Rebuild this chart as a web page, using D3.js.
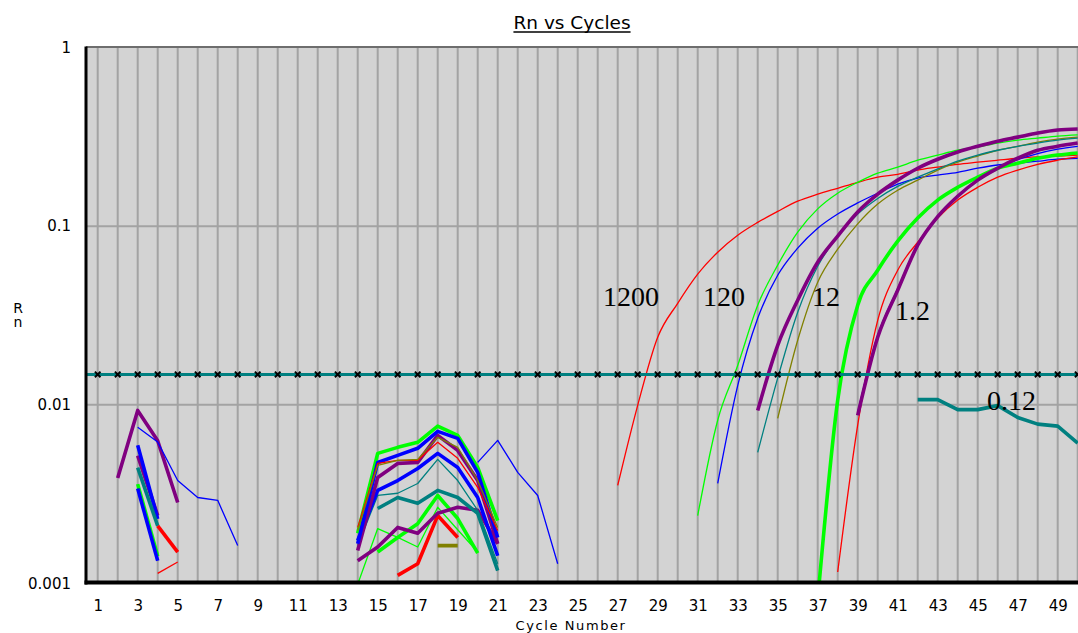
<!DOCTYPE html>
<html>
<head>
<meta charset="utf-8">
<script src="https://cdn.jsdelivr.net/npm/d3@7"></script>
<style>
  html, body { margin: 0; padding: 0; background: #ffffff; }
  svg { display: block; }
</style>
</head>
<body>
<svg id="chart" width="1078" height="633"></svg>
<script>
// ---------------- DATA (Rn values) ----------------
const xTickLabels = [1,3,5,7,9,11,13,15,17,19,21,23,25,27,29,31,33,35,37,39,41,43,45,47,49];
const yTickValues = [0.001, 0.01, 0.1, 1];
const gridCycles = [1,2,3,4,5,6,7,8,9,10,11,12,13,14,15,16,17,18,19,20,21,22,23,24,25,26,27,28,29,30,31,32,33,34,35,36,37,38,39,40,41,42,43,44,45,46,47,48,49,50];
const thresholdValue = 0.0148;

// early noise cluster (cycles 2-8)
const leftPurpleA = [0.0039, 0.0093, 0.0063, 0.00284];           // cycles 2-5
const leftBlueThin = [0.0075, 0.0062, 0.00377, 0.00303, 0.00292, 0.00163]; // 3-8
const leftGreenB = [0.0036, 0.00142];                            // 3-4
const leftBlueB = [0.0034, 0.00134];                             // 3-4
const leftPurpleB = [0.0052, 0.0024];                            // 3-4
const leftBlueA = [0.00594, 0.0023];                             // 3-4
const leftTeal = [0.00445, 0.0021];                              // 3-4
const leftRedThick = [0.0021, 0.0015];                           // 4-5
const leftRedThin = [0.00114, 0.00132];                          // 4-5

// middle noise cluster (cycles 14-24)
const midGreenThin = [0.00099, 0.00203, 0.00181, 0.0016, 0.00267, 0.002, 0.0015];          // 14-20
const midRedThickB = [0.00111, 0.00129, 0.0024, 0.00181];                                   // 16-19
const midOliveThick = [0.00163, 0.00163];                                                   // 18-19
const midGreenB = [0.0015, 0.00181, 0.00216, 0.00311, 0.00231, 0.00148];                    // 15-20
const midPurpleB = [0.00134, 0.0016, 0.00206, 0.00191, 0.00247, 0.00267, 0.00257, 0.00167]; // 14-21
const midTealThick = [0.00263, 0.00303, 0.00281, 0.00332, 0.00303, 0.00247, 0.00118];       // 15-21
const midTealThin = [0.00163, 0.00311, 0.0032, 0.00363, 0.00495, 0.00377, 0.00257, 0.00129];// 14-21
const midBlueB = [0.00174, 0.00332, 0.00377, 0.0044, 0.00535, 0.00446, 0.00303, 0.00143];   // 14-21
const midPurpleA = [0.00153, 0.00392, 0.0047, 0.00476, 0.00675, 0.00556, 0.00377, 0.00167]; // 14-21
const midRedThin = [0.00206, 0.0047, 0.00489, 0.00489, 0.00617, 0.00502, 0.00345, 0.00198]; // 14-21
const midOliveThin = [0.00198, 0.00458, 0.00489, 0.00495, 0.00658, 0.00578, 0.00377, 0.00206]; // 14-21
const midBlueA = [0.00167, 0.00476, 0.00521, 0.00571, 0.0071, 0.00649, 0.00419, 0.00181];   // 14-21
const midGreenA = [0.00191, 0.00535, 0.00578, 0.00617, 0.0076, 0.00675, 0.00446, 0.00225];  // 14-21
const midBlueThin = [0.00476, 0.00633, 0.00419, 0.00311, 0.00129];                          // 20-24

// amplification curves
const red1200 = [0.00354, 0.00994, 0.0239, 0.037, 0.0539, 0.0715, 0.089, 0.105, 0.121, 0.138, 0.151, 0.163, 0.176, 0.188, 0.195, 0.206, 0.214, 0.222, 0.228, 0.234, 0.24, 0.244, 0.247, 0.25]; // 27-50
const green120 = [0.0024, 0.0082, 0.0166, 0.0361, 0.0605, 0.0926, 0.125, 0.153, 0.176, 0.198, 0.214, 0.234, 0.25, 0.266, 0.277, 0.292, 0.303, 0.311, 0.319, 0.324]; // 31-50
const blue120 = [0.00363, 0.0128, 0.0305, 0.0531, 0.0753, 0.0974, 0.117, 0.135, 0.153, 0.172, 0.186, 0.193, 0.2, 0.211, 0.22, 0.225, 0.231, 0.237, 0.24]; // 32-50
const olive12 = [0.0084, 0.023, 0.0486, 0.0743, 0.103, 0.133, 0.159, 0.181, 0.206, 0.228, 0.247, 0.266, 0.28, 0.295, 0.307, 0.315]; // 35-50
const teal12 = [0.00542, 0.0141, 0.033, 0.0597, 0.0879, 0.117, 0.143, 0.167, 0.188, 0.209, 0.231, 0.25, 0.266, 0.28, 0.292, 0.303, 0.311]; // 34-50
const purple12 = [0.0093, 0.0215, 0.0385, 0.0628, 0.0879, 0.12, 0.151, 0.181, 0.211, 0.237, 0.26, 0.28, 0.299, 0.315, 0.332, 0.345, 0.35]; // 34-50
const greenThick1p2 = [0.00081, 0.0106, 0.0361, 0.0567, 0.0824, 0.111, 0.14, 0.165, 0.188, 0.211, 0.225, 0.24, 0.25, 0.257]; // 37-50
const red1p2 = [0.00116, 0.0077, 0.0297, 0.0567, 0.0813, 0.111, 0.14, 0.165, 0.188, 0.206, 0.222, 0.234, 0.244]; // 38-50
const blue1p2 = [0.0091, 0.0245, 0.0447, 0.079, 0.113, 0.147, 0.18, 0.21, 0.236, 0.255, 0.27, 0.28]; // 39-50
const purple1p2 = [0.00873, 0.0239, 0.0438, 0.0783, 0.113, 0.147, 0.181, 0.211, 0.24, 0.266, 0.28, 0.292]; // 39-50
const teal0p12 = [0.0107, 0.0107, 0.0094, 0.0094, 0.0099, 0.0085, 0.0078, 0.0076, 0.0061]; // 42-50

// dilution annotations: text, cycle, Rn
const annotTexts = ["1200", "120", "12", "1.2", "0.12"];
const annotCycles = [26.27, 31.27, 36.72, 40.87, 45.47];
const annotValues = [0.0356, 0.0356, 0.0356, 0.0297, 0.0093];

// ---------------- STYLES ----------------
const RED = "#ff0000", GREEN = "#00ff00", BLUE = "#0000ff", PURPLE = "#800080", TEAL = "#008080", OLIVE = "#808000";
const THIN = 1.3, THICK = 3.6;

const series = [
  {v: leftPurpleA, s: 2, c: PURPLE, w: THICK},
  {v: leftBlueThin, s: 3, c: BLUE, w: THIN},
  {v: leftGreenB, s: 3, c: GREEN, w: THICK},
  {v: leftBlueB, s: 3, c: BLUE, w: THICK},
  {v: leftPurpleB, s: 3, c: PURPLE, w: THICK},
  {v: leftBlueA, s: 3, c: BLUE, w: THICK},
  {v: leftTeal, s: 3, c: TEAL, w: THICK},
  {v: leftRedThick, s: 4, c: RED, w: THICK},
  {v: leftRedThin, s: 4, c: RED, w: THIN},

  {v: midGreenThin, s: 14, c: GREEN, w: THIN},
  {v: midRedThickB, s: 16, c: RED, w: THICK},
  {v: midOliveThick, s: 18, c: OLIVE, w: THICK},
  {v: midGreenB, s: 15, c: GREEN, w: THICK},
  {v: midPurpleB, s: 14, c: PURPLE, w: THICK},
  {v: midTealThick, s: 15, c: TEAL, w: THICK},
  {v: midTealThin, s: 14, c: TEAL, w: THIN},
  {v: midBlueB, s: 14, c: BLUE, w: THICK},
  {v: midPurpleA, s: 14, c: PURPLE, w: THICK},
  {v: midBlueThin, s: 20, c: BLUE, w: THIN},
  {v: midGreenA, s: 14, c: GREEN, w: THICK},
  {v: midBlueA, s: 14, c: BLUE, w: THICK},
  {v: midRedThin, s: 14, c: RED, w: THIN},
  {v: midOliveThin, s: 14, c: OLIVE, w: THIN},

  {v: red1200, s: 27, c: RED, w: THIN, smooth: true},
  {v: green120, s: 31, c: GREEN, w: THIN, smooth: true},
  {v: blue120, s: 32, c: BLUE, w: THIN, smooth: true},
  {v: olive12, s: 35, c: OLIVE, w: THIN, smooth: true},
  {v: teal12, s: 34, c: TEAL, w: THIN, smooth: true},
  {v: purple12, s: 34, c: PURPLE, w: THICK, smooth: true},
  {v: greenThick1p2, s: 37, c: GREEN, w: THICK, smooth: true},
  {v: red1p2, s: 38, c: RED, w: THIN, smooth: true},
  {v: blue1p2, s: 39, c: BLUE, w: THIN, smooth: true},
  {v: purple1p2, s: 39, c: PURPLE, w: THICK, smooth: true},
  {v: teal0p12, s: 42, c: TEAL, w: THICK}
];

// ---------------- LAYOUT ----------------
const svg = d3.select("#chart");
const plotLeft = 86, plotRight = 1078, plotTop = 47.5, plotBottom = 583.5;

const x = d3.scaleLinear().domain([1, 50]).range([97.7, 1077.7]);
const y = d3.scaleLog().domain([0.001, 1]).range([plotBottom, plotTop]);

svg.append("rect").attr("width", 1078).attr("height", 633).attr("fill", "#ffffff");

// plot background
svg.append("rect")
  .attr("x", plotLeft).attr("y", plotTop)
  .attr("width", plotRight - plotLeft).attr("height", plotBottom - plotTop)
  .attr("fill", "#d3d3d3");

const defs = svg.append("defs");
defs.append("clipPath").attr("id", "plotclip")
  .append("rect")
  .attr("x", plotLeft).attr("y", plotTop)
  .attr("width", plotRight - plotLeft).attr("height", plotBottom - plotTop - 1);

// grid
const grid = svg.append("g");
grid.selectAll("line.v").data(gridCycles).join("line")
  .attr("x1", d => x(d)).attr("x2", d => x(d))
  .attr("y1", plotTop).attr("y2", plotBottom)
  .attr("stroke", "#a3a3a3").attr("stroke-width", 2);
grid.selectAll("line.h").data([0.01, 0.1]).join("line")
  .attr("x1", plotLeft).attr("x2", plotRight)
  .attr("y1", d => y(d)).attr("y2", d => y(d))
  .attr("stroke", "#a3a3a3").attr("stroke-width", 2);

// series lines
const lineStraight = d3.line().x(d => x(d.c)).y(d => y(d.v));
const lineSmooth = d3.line().x(d => x(d.c)).y(d => y(d.v)).curve(d3.curveMonotoneX);

const lines = svg.append("g").attr("clip-path", "url(#plotclip)");
series.forEach(sr => {
  const pts = sr.v.map((v, i) => ({c: sr.s + i, v: v}));
  lines.append("path")
    .attr("d", (sr.smooth ? lineSmooth : lineStraight)(pts))
    .attr("fill", "none")
    .attr("stroke", sr.c)
    .attr("stroke-width", sr.w)
    .attr("stroke-linejoin", "round")
    .attr("stroke-linecap", "butt");
});

// threshold
const thrY = y(thresholdValue);
svg.append("line")
  .attr("x1", plotLeft).attr("x2", plotRight)
  .attr("y1", thrY).attr("y2", thrY)
  .attr("stroke", TEAL).attr("stroke-width", 3);
svg.append("g").selectAll("path").data(gridCycles).join("path")
  .attr("transform", d => `translate(${x(d)},${thrY})`)
  .attr("d", d3.symbol(d3.symbolTimes, 22)())
  .attr("fill", "none")
  .attr("stroke", "#000")
  .attr("stroke-width", 2);

// borders
svg.append("line").attr("x1", plotLeft).attr("x2", plotRight)
  .attr("y1", plotTop - 0.5).attr("y2", plotTop - 0.5)
  .attr("stroke", "#6e6e6e").attr("stroke-width", 2);
svg.append("line").attr("x1", plotLeft).attr("x2", plotLeft)
  .attr("y1", plotTop - 1).attr("y2", plotBottom + 1)
  .attr("stroke", "#000").attr("stroke-width", 3);
svg.append("line").attr("x1", plotLeft - 1.5).attr("x2", plotRight)
  .attr("y1", plotBottom - 1).attr("y2", plotBottom - 1)
  .attr("stroke", "#000").attr("stroke-width", 4);

// axes
const font = "'DejaVu Sans', Verdana, sans-serif";
const yAxis = d3.axisLeft(y).tickValues(yTickValues)
  .tickFormat(d => String(d)).tickSize(0).tickPadding(15);
const gy = svg.append("g").attr("transform", `translate(${plotLeft},0)`).call(yAxis);
gy.select(".domain").remove();
gy.selectAll("text").attr("font-family", font).attr("font-size", 15).attr("fill", "#000");

const xAxis = d3.axisBottom(x).tickValues(xTickLabels)
  .tickFormat(d3.format("d")).tickSize(0).tickPadding(17);
const gx = svg.append("g").attr("transform", `translate(0,${plotBottom})`).call(xAxis);
gx.select(".domain").remove();
gx.selectAll("text").attr("font-family", font).attr("font-size", 15).attr("fill", "#000");

// title
const title = svg.append("text")
  .attr("x", 572).attr("y", 29)
  .attr("text-anchor", "middle")
  .attr("font-family", font).attr("font-size", 18.5)
  .attr("fill", "#000")
  .text("Rn vs Cycles");
const tb = title.node().getBBox();
svg.append("line")
  .attr("x1", tb.x).attr("x2", tb.x + tb.width)
  .attr("y1", 32).attr("y2", 32)
  .attr("stroke", "#000").attr("stroke-width", 1.3);

// axis titles
svg.append("text")
  .attr("x", 571).attr("y", 629.5)
  .attr("text-anchor", "middle")
  .attr("font-family", font).attr("font-size", 13)
  .attr("letter-spacing", "1.6px")
  .attr("fill", "#000")
  .text("Cycle Number");
svg.append("text").attr("x", 18).attr("y", 313)
  .attr("text-anchor", "middle")
  .attr("font-family", font).attr("font-size", 14).attr("fill", "#000").text("R");
svg.append("text").attr("x", 18).attr("y", 327)
  .attr("text-anchor", "middle")
  .attr("font-family", font).attr("font-size", 14).attr("fill", "#000").text("n");

// annotations
svg.append("g").selectAll("text").data(annotTexts).join("text")
  .attr("x", (d, i) => x(annotCycles[i]))
  .attr("y", (d, i) => y(annotValues[i]))
  .attr("font-family", "'Liberation Serif', 'Times New Roman', serif")
  .attr("font-size", 28)
  .attr("fill", "#000")
  .text(d => d);
</script>
</body>
</html>
